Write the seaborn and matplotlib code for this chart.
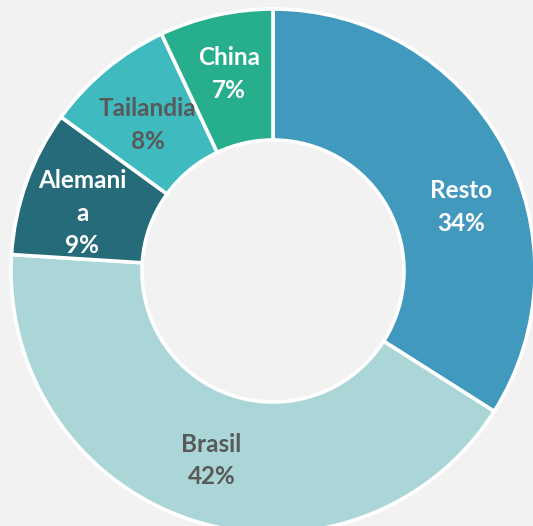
import numpy as np
import matplotlib
matplotlib.use("Agg")
import matplotlib.pyplot as plt
import seaborn as sns

# Data
countries = ["Resto", "Brasil", "Alemania", "Tailandia", "China"]
label_texts = ["Resto", "Brasil", "Alemani\na", "Tailandia", "China"]
shares = [34, 42, 9, 8, 7]

# Styles
colors = ["#4299BE", "#AAD6D7", "#256B7A", "#3FBBBF", "#27AE8D"]
text_colors = ["white", "#595959", "white", "#595959", "white"]
angle_tweak = [10, 0, -3, -1, 0]
label_radius = [0.76, 0.76, 0.76, 0.735, 0.77]

sns.set_theme(style="white")
plt.rcParams['font.family'] = ['Lato', 'DejaVu Sans']

W, H, dpi = 533, 526, 100
cx, cy, R = 273, 271, 262
fig = plt.figure(figsize=(W / dpi, H / dpi), dpi=dpi, facecolor="#F2F2F2")
ax = fig.add_axes([0, 0, 1, 1])
ax.set_facecolor("#F2F2F2")

palette = sns.color_palette(colors)
wedges, _ = ax.pie(shares, colors=palette, startangle=90, counterclock=False,
                   radius=1.0,
                   wedgeprops=dict(width=0.5, edgecolor="white", linewidth=2.6))

ax.set_xlim(-cx / R, (W - cx) / R)
ax.set_ylim(-(H - cy) / R, cy / R)
ax.set_aspect("auto")
ax.axis("off")

total = sum(shares)
start = 90.0
for i, (lab, v) in enumerate(zip(label_texts, shares)):
    span = 360.0 * v / total
    mid = start - span / 2 - angle_tweak[i]
    start -= span
    r_lab = label_radius[i]
    x = r_lab * np.cos(np.radians(mid))
    y = r_lab * np.sin(np.radians(mid))
    ax.text(x, y, f"{lab}\n{v}%", ha="center", va="center", color=text_colors[i],
            fontsize=17.5, fontweight="bold", linespacing=1.5)

fig.savefig("out.png", dpi=dpi, facecolor=fig.get_facecolor())
